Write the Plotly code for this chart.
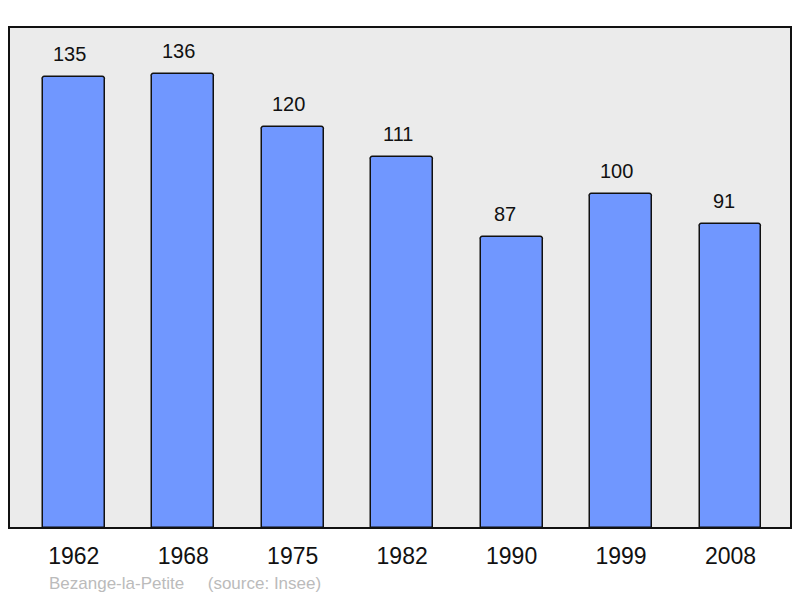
import plotly.graph_objects as go

years = ["1962", "1968", "1975", "1982", "1990", "1999", "2008"]
population = [135, 136, 120, 111, 87, 100, 91]
place = "Bezange-la-Petite"
source = "(source: Insee)"

FONT = "Liberation Sans, Arial, sans-serif"

fig = go.Figure()
fig.add_trace(go.Bar(
    x=list(range(len(years))), y=population, width=0.565,
    marker=dict(color="#7097ff", line=dict(color="#111111", width=1.5), cornerradius=3),
    hoverinfo="skip",
))
for i, v in enumerate(population):
    fig.add_annotation(x=i, y=v, text=str(v), showarrow=False, yanchor="bottom",
                       yshift=10, xshift=-4.5 if v >= 100 else -6.5,
                       font=dict(family=FONT, size=20, color="#111"))

fig.add_annotation(xref="paper", yref="paper", x=0.048, y=-0.11, xanchor="left", yanchor="middle",
                   text=place + "     " + source, showarrow=False,
                   font=dict(family=FONT, size=17, color="#bbbbbb"))

fig.update_layout(
    width=792, height=590,
    margin=dict(l=1, r=9, t=19, b=70),
    paper_bgcolor="white", plot_bgcolor="#ebebeb",
    showlegend=False, bargap=0,
    xaxis=dict(tickmode="array", tickvals=list(range(len(years))), ticktext=years,
               range=[-0.592, 6.553], showgrid=False, zeroline=False, ticks="",
               ticklabelstandoff=12,
               tickfont=dict(family=FONT, size=23, color="#111")),
    yaxis=dict(range=[0, 150], showgrid=False, zeroline=False, showticklabels=False, ticks=""),
    shapes=[dict(type="rect", xref="paper", yref="paper", x0=0, x1=1, y0=0, y1=1,
                 line=dict(color="#111", width=2), layer="above")],
)
fig.write_html("out.html")
